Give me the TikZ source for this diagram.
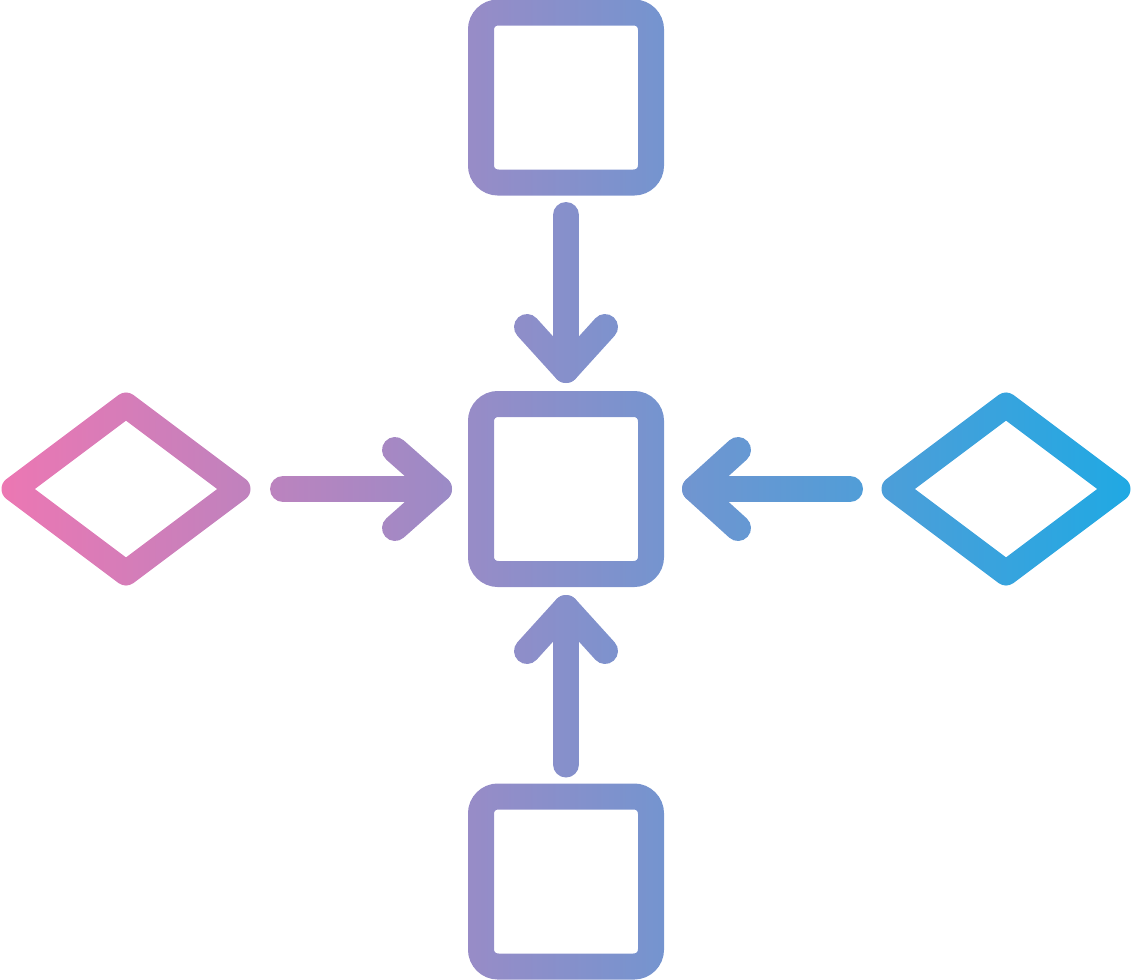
\documentclass[tikz,border=0pt]{standalone}
\usetikzlibrary{shapes.geometric,calc}
\definecolor{gradL}{RGB}{240,118,178}
\definecolor{gradR}{RGB}{28,170,228}
\begin{document}
\begin{tikzpicture}[x=1pt,y=-1pt,
  box/.style={draw=black,line width=26pt,rounded corners=17pt,minimum width=170pt,minimum height=170pt,inner sep=0pt,outer sep=0pt},
  dia/.style={draw=black,diamond,line width=25pt,line join=round,minimum width=224pt,minimum height=168pt,inner sep=0pt,outer sep=0pt},
  conn/.style={draw=black,line width=26pt,line cap=round,line join=round}]
\useasboundingbox (0,0) rectangle (1133,980);
\fill[white] (-20,-20) rectangle (1153,1000);
\node[box] (top) at (566,97.5) {};
\node[box] (center) at (566,489) {};
\node[box] (bottom) at (566,881.5) {};
\node[dia] (left) at (126,489) {};
\node[dia] (right) at (1006,489) {};
% top arrow
\coordinate (t1) at ($(top.south)+(0,32.5)$);
\coordinate (t2) at ($(center.north)+(0,-34)$);
\draw[conn] (t1) -- (t2);
\draw[conn] ($(t2)+(-39,-43)$) -- (t2) -- ($(t2)+(39,-43)$);
% bottom arrow
\coordinate (b1) at ($(bottom.north)+(0,-32)$);
\coordinate (b2) at ($(center.south)+(0,34)$);
\draw[conn] (b1) -- (b2);
\draw[conn] ($(b2)+(-39,43)$) -- (b2) -- ($(b2)+(39,43)$);
% left arrow
\coordinate (l1) at ($(left.east)+(45,0)$);
\coordinate (l2) at ($(center.west)+(-42,0)$);
\draw[conn] (l1) -- (l2);
\draw[conn] ($(l2)+(-44,-39)$) -- (l2) -- ($(l2)+(-44,39)$);
% right arrow
\coordinate (r1) at ($(right.west)+(-44,0)$);
\coordinate (r2) at ($(center.east)+(44,0)$);
\draw[conn] (r1) -- (r2);
\draw[conn] ($(r2)+(43,-39)$) -- (r2) -- ($(r2)+(43,39)$);
% gradient colouring
\shade[left color=gradL,right color=gradR,blend mode=screen] (-20,-20) rectangle (1153,1000);
\end{tikzpicture}
\end{document}
